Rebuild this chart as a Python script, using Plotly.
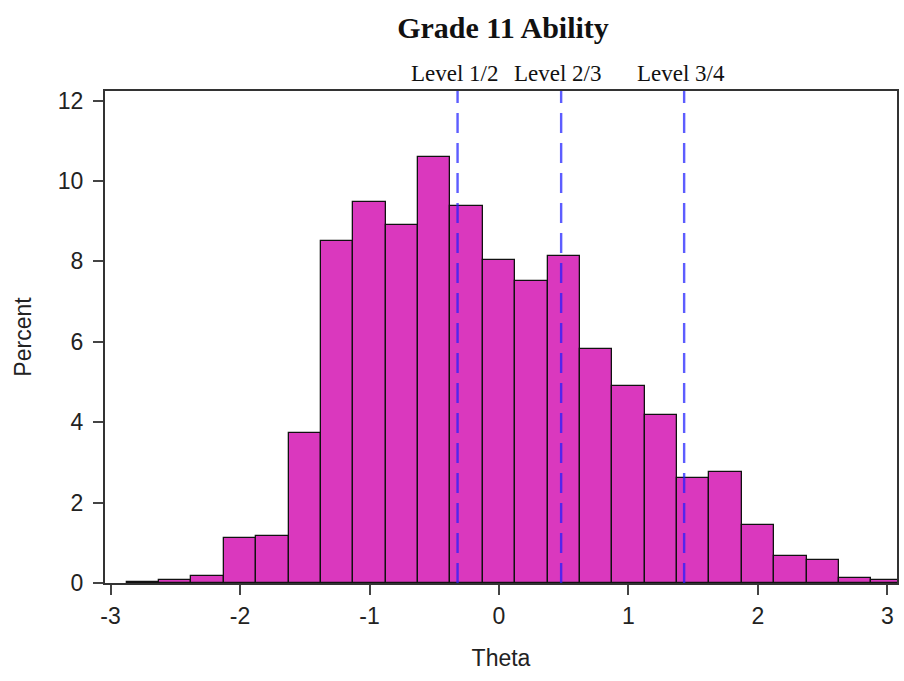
import plotly.graph_objects as go

# Histogram of theta estimates: bin midpoints (width 0.25) and percent per bin
bin_mid = [-2.75, -2.5, -2.25, -2.0, -1.75, -1.5, -1.25, -1.0, -0.75, -0.5, -0.25,
           0.0, 0.25, 0.5, 0.75, 1.0, 1.25, 1.5, 1.75, 2.0, 2.25, 2.5, 2.75, 3.0]
percent = [0.02, 0.08, 0.18, 1.12, 1.18, 3.72, 8.51, 9.48, 8.90, 10.61, 9.38,
           8.04, 7.51, 8.14, 5.81, 4.90, 4.17, 2.62, 2.77, 1.45, 0.68, 0.56, 0.13, 0.08]
bin_width = 0.25

# Performance level cut scores on the theta scale
cut_labels = ["Level 1/2", "Level 2/3", "Level 3/4"]
cut_scores = [-0.32, 0.48, 1.43]

x_ticks = [-3, -2, -1, 0, 1, 2, 3]
y_ticks = [0, 2, 4, 6, 8, 10, 12]

SERIF = "Liberation Serif, Times New Roman, serif"
SANS = "Liberation Sans, Arial, sans-serif"

fig = go.Figure()
fig.add_trace(go.Bar(
    x=bin_mid,
    y=percent,
    width=bin_width,
    marker=dict(color="#DA38BE", line=dict(color="#111111", width=1.3)),
    hoverinfo="x+y",
))

for lab, cs in zip(cut_labels, cut_scores):
    fig.add_shape(type="line", xref="x", yref="paper", x0=cs, x1=cs, y0=0, y1=1,
                  line=dict(color="rgba(30,30,255,0.72)", width=2.4, dash="20px,10px"),
                  layer="above")
    fig.add_annotation(x=cs, xref="x", y=1, yref="paper", text=lab, showarrow=False,
                       xanchor="center", yanchor="bottom", yshift=3, xshift=-3,
                       font=dict(family=SERIF, size=23, color="#111111"))

fig.update_layout(
    width=904, height=681,
    margin=dict(l=105, r=5, t=91, b=98),
    paper_bgcolor="white", plot_bgcolor="white",
    showlegend=False,
    bargap=0,
    title=dict(text="<b>Grade 11 Ability</b>", x=503 / 904, xanchor="center",
               y=1 - 27 / 681, yanchor="middle",
               font=dict(family=SERIF, size=30, color="#111111")),
    font=dict(family=SANS, size=23, color="#222222"),
)

fig.update_xaxes(
    range=[-3.043, 3.074], tickvals=x_ticks, ticktext=[str(v) for v in x_ticks],
    ticks="outside", ticklen=10, tickwidth=1.5, tickcolor="#444444",
    showline=True, linecolor="#333333", linewidth=2, mirror=True,
    showgrid=False, zeroline=False, ticklabelstandoff=1,
    title=dict(text="Theta", standoff=22, font=dict(size=23)),
    tickfont=dict(size=23),
)
fig.update_yaxes(
    range=[0, 12.24], tickvals=y_ticks, ticktext=[str(v) for v in y_ticks],
    ticks="outside", ticklen=10, tickwidth=1.5, tickcolor="#444444",
    showline=True, linecolor="#333333", linewidth=2, mirror=True,
    showgrid=False, zeroline=False, ticklabelstandoff=5,
    title=dict(text="Percent", standoff=20, font=dict(size=23)),
    tickfont=dict(size=23),
)

fig.write_html("out.html")
